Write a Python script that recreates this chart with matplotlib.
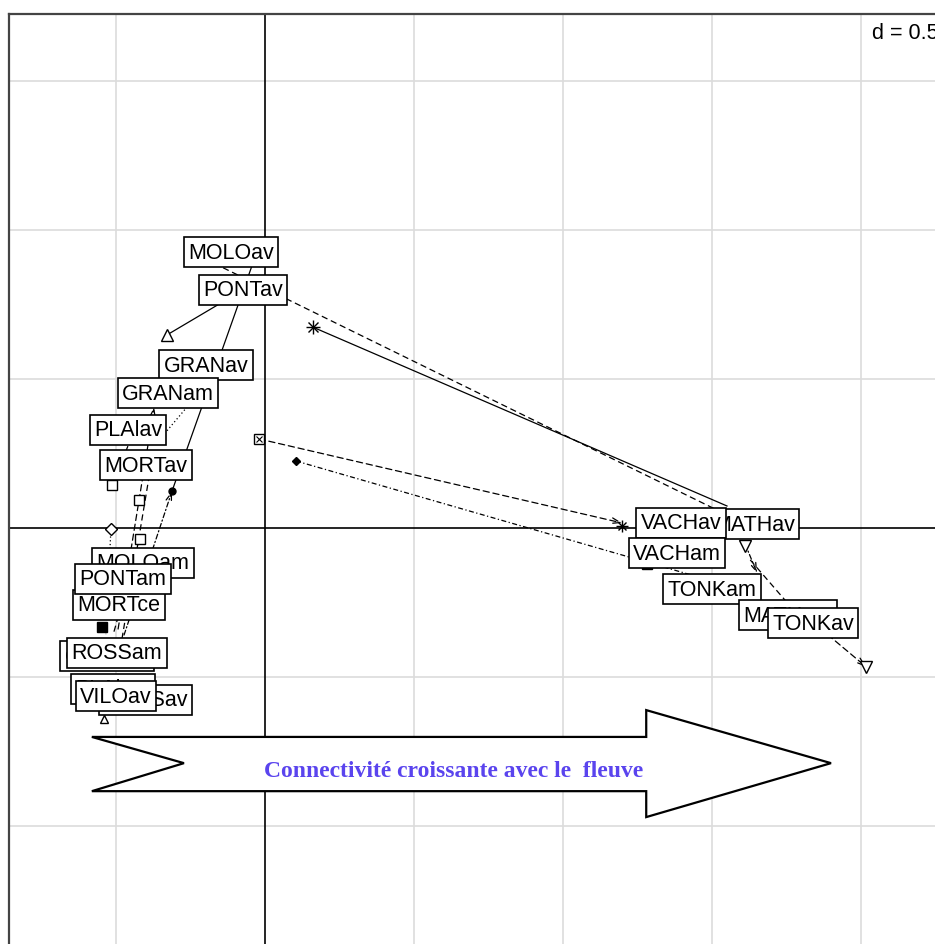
import numpy as np
import matplotlib.pyplot as plt
from matplotlib.patches import Polygon

# label positions (scores)
lab_names = ['MOLOav', 'PONTav', 'GRANav', 'GRANam', 'PLAlav', 'MORTav',
             'MOLOam', 'MORTce', 'PONTam', 'CORAav', 'ROSSam', 'PLAlam',
             'ROSSav', 'VILOav', 'MATHav', 'VACHav', 'VACHam', 'TONKam',
             'MATHam', 'TONKav']
lab_x = [-0.114, -0.074, -0.198, -0.326, -0.460, -0.399,
         -0.409, -0.490, -0.477, -0.530, -0.497, -0.510,
         -0.401, -0.500, 1.641, 1.396, 1.383, 1.500,
         1.755, 1.839]
lab_y = [0.926, 0.799, 0.547, 0.453, 0.329, 0.211,
         -0.117, -0.258, -0.171, -0.430, -0.419, -0.540,
         -0.577, -0.564, 0.013, 0.017, -0.084, -0.205,
         -0.292, -0.319]

# point symbols
pt_x = [-0.329, 0.161, -0.020, 0.104, -0.312, -0.513, -0.423, -0.517,
        -0.419, -0.547, -0.540, 1.611, 2.017, 1.198, 1.282]
pt_y = [0.648, 0.674, 0.299, 0.225, 0.124, 0.144, 0.094, -0.003,
        -0.037, -0.332, -0.641, -0.060, -0.466, 0.007, -0.121]
pt_kind = ['tri', 'ast', 'sqx', 'dia_f', 'circ_f', 'sq', 'sq', 'dia',
           'sq', 'sq_f', 'tri_s', 'tri_d', 'tri_d', 'ast_s', 'sq_f']

# segments between the two sets
seg_x0 = [-0.074, -0.312, -0.201, 0.161, -0.020, 0.104, 1.611, 1.628, 1.862,
          -0.493, -0.480, -0.473, -0.517, -0.419, -0.245, -0.460, -0.540]
seg_y0 = [0.799, 0.124, 0.903, 0.674, 0.299, 0.225, -0.054, -0.107, -0.336,
          -0.339, -0.372, -0.359, -0.003, -0.037, 0.426, 0.275, -0.641]
seg_x1 = [-0.329, -0.030, 1.550, 1.550, 1.198, 1.477, 1.651, 1.762, 2.017,
          -0.372, -0.379, -0.312, -0.534, -0.510, -0.352, -0.513, -0.520]
seg_y1 = [0.648, 0.919, 0.044, 0.074, 0.017, -0.171, -0.151, -0.262, -0.466,
          0.406, 0.232, 0.124, -0.356, -0.359, 0.299, 0.144, -0.540]
seg_ls = ['solid', 'solid', 'dash', 'solid', 'dash', 'dashdot', 'dashdot',
          'dash', 'dash', 'dash', 'dash', 'dashdot', 'dot', 'dash', 'dot',
          'dash', 'dot']
seg_arrow = [0, 0, 0, 0, 1, 0, 1, 0, 1, 1, 0, 1, 0, 0, 0, 0, 0]

# big arrow outline
arr_x = [-0.581, 1.279, 1.279, 1.899, 1.279, 1.279, -0.581, -0.272]
arr_y = [-0.701, -0.701, -0.611, -0.789, -0.970, -0.883, -0.883, -0.789]

styles = {'solid': '-', 'dash': (0, (5, 3)), 'dashdot': (0, (4, 2, 1, 2)),
          'dot': (0, (1, 2))}

fig = plt.figure(figsize=(9.35, 9.45), dpi=100)
ax = fig.add_axes([9/935, 1 - 965/945, 946/935, 950/945])
ax.set_xlim(-0.859, 2.315)
ax.set_ylim(-1.463, 1.725)

# grid
for g in np.arange(-0.5, 2.5, 0.5):
    if g != 0:
        ax.axvline(g, color='#dcdcdc', lw=1.2, zorder=0)
for g in np.arange(-1.0, 2.0, 0.5):
    if g != 0:
        ax.axhline(g, color='#dcdcdc', lw=1.2, zorder=0)
ax.axvline(0, color='black', lw=1.2, zorder=1)
ax.axhline(0, color='black', lw=1.2, zorder=1)

for sp in ['top', 'left']:
    ax.spines[sp].set_color('#444444')
    ax.spines[sp].set_linewidth(1.6)
for sp in ['right', 'bottom']:
    ax.spines[sp].set_visible(False)
ax.set_xticks([])
ax.set_yticks([])

# segments
for i in range(len(seg_x0)):
    ls = styles[seg_ls[i]]
    if seg_arrow[i]:
        ax.annotate('', xy=(seg_x1[i], seg_y1[i]), xytext=(seg_x0[i], seg_y0[i]),
                    arrowprops=dict(arrowstyle='->,head_length=0.6,head_width=0.2',
                                    lw=0.9, color='black', linestyle=ls,
                                    shrinkA=0, shrinkB=0), zorder=2)
    else:
        ax.plot([seg_x0[i], seg_x1[i]], [seg_y0[i], seg_y1[i]], color='black',
                lw=0.9, linestyle=ls, zorder=2)

# symbols
for x, y, k in zip(pt_x, pt_y, pt_kind):
    if k == 'tri':
        ax.plot(x, y, marker='^', ms=9, mfc='white', mec='black', mew=1, zorder=3)
    elif k == 'tri_s':
        ax.plot(x, y, marker='^', ms=6, mfc='white', mec='black', mew=1, zorder=3)
    elif k == 'tri_d':
        ax.plot(x, y, marker='v', ms=8, mfc='white', mec='black', mew=1, zorder=3)
    elif k == 'ast':
        ax.plot(x, y, marker='+', ms=10, color='black', mew=1, zorder=3)
        ax.plot(x, y, marker='x', ms=7, color='black', mew=1, zorder=3)
    elif k == 'ast_s':
        ax.plot(x, y, marker='+', ms=8, color='black', mew=1, zorder=3)
        ax.plot(x, y, marker='x', ms=6, color='black', mew=1, zorder=3)
    elif k == 'sqx':
        ax.plot(x, y, marker='s', ms=7, mfc='white', mec='black', mew=1, zorder=3)
        ax.plot(x, y, marker='x', ms=5, color='black', mew=0.8, zorder=3)
    elif k == 'dia_f':
        ax.plot(x, y, marker='D', ms=4, color='black', zorder=3)
    elif k == 'circ_f':
        ax.plot(x, y, marker='o', ms=5, color='black', zorder=3)
    elif k == 'sq':
        ax.plot(x, y, marker='s', ms=7, mfc='white', mec='black', mew=1, zorder=3)
    elif k == 'sq_f':
        ax.plot(x, y, marker='s', ms=7, color='black', zorder=3)
    elif k == 'dia':
        ax.plot(x, y, marker='D', ms=6, mfc='white', mec='black', mew=1, zorder=3)

# labels
for i, name in enumerate(lab_names):
    ax.text(lab_x[i], lab_y[i], name, ha='center', va='center', fontsize=15.5,
            family='Liberation Sans', zorder=5 + i * 0.01,
            bbox=dict(boxstyle='square,pad=0.2', fc='white', ec='black', lw=1.2))

ax.text(2.037, 1.664, 'd = 0.5', ha='left', va='center', fontsize=15.5,
        family='Liberation Sans', zorder=6)

# big arrow
ax.add_patch(Polygon(np.column_stack([arr_x, arr_y]), closed=True, fc='white',
                     ec='black', lw=1.6, zorder=7))
ax.text(0.634, -0.815, 'Connectivité croissante avec le  fleuve', ha='center',
        va='center', fontsize=17, family='Liberation Serif', weight='bold',
        color='#5a44ee', zorder=8)

fig.savefig('out.png', dpi=100)
